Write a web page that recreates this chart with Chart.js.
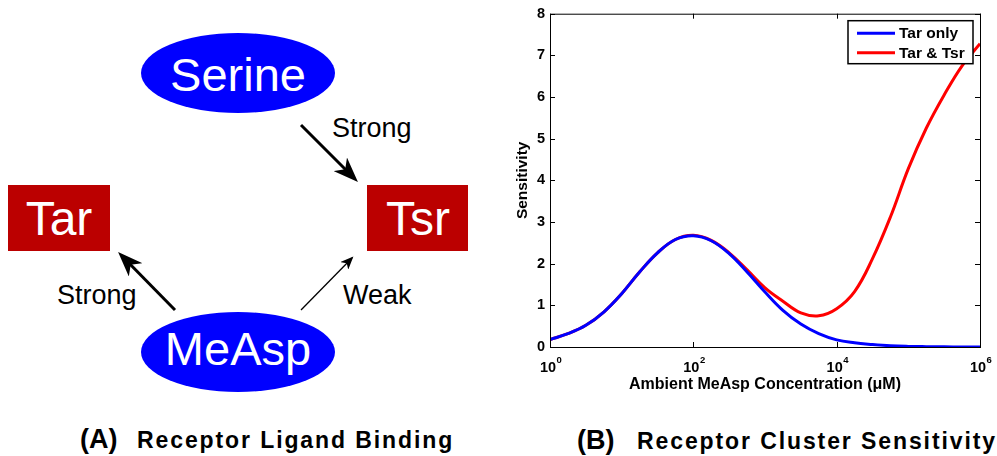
<!DOCTYPE html>
<html>
<head>
<meta charset="utf-8">
<script src="https://cdn.jsdelivr.net/npm/chart.js@4"></script>
<style>
  body { margin: 0; background: #fff; }
  #wrap { position: relative; width: 997px; height: 456px; overflow: hidden; }
  #diagram { position: absolute; left: 0; top: 0; }
  #sens { position: absolute; left: 500px; top: 0; }
</style>
</head>
<body>
<div id="wrap">
<svg id="diagram" width="997" height="456" font-family="Liberation Sans, Arial, Helvetica, sans-serif">
  <defs>
    <marker id="headBig" markerUnits="userSpaceOnUse" markerWidth="26" markerHeight="19" refX="18" refY="9.5" orient="auto">
      <path d="M0,0 L25,9.5 L0,19 L7,9.5 z" fill="#000"/>
    </marker>
    <marker id="headSmall" markerUnits="userSpaceOnUse" markerWidth="14" markerHeight="11" refX="11" refY="5.5" orient="auto">
      <path d="M0,0 L13,5.5 L0,11 L3.5,5.5 z" fill="#000"/>
    </marker>
  </defs>
  <ellipse cx="238" cy="73" rx="97" ry="40" fill="#0000ff"/>
  <text x="238" y="91" fill="#fff" font-size="47" text-anchor="middle">Serine</text>
  <ellipse cx="238" cy="352" rx="97" ry="40" fill="#0000ff"/>
  <text x="238" y="365" fill="#fff" font-size="47" text-anchor="middle">MeAsp</text>
  <rect x="8" y="185" width="102" height="66" fill="#bb0000"/>
  <text x="59" y="235" fill="#fff" font-size="48" text-anchor="middle">Tar</text>
  <rect x="367" y="185" width="101" height="66" fill="#bb0000"/>
  <text x="418" y="235" fill="#fff" font-size="48" text-anchor="middle">Tsr</text>

  <line x1="301" y1="125" x2="353" y2="177" stroke="#000" stroke-width="3" marker-end="url(#headBig)"/>
  <line x1="175" y1="310" x2="123" y2="257" stroke="#000" stroke-width="3" marker-end="url(#headBig)"/>
  <line x1="301" y1="310" x2="352" y2="258" stroke="#000" stroke-width="1.3" marker-end="url(#headSmall)"/>

  <text x="332" y="137" font-size="27">Strong</text>
  <text x="57" y="304" font-size="27">Strong</text>
  <text x="343" y="304" font-size="27">Weak</text>

  <text y="448" font-weight="bold"><tspan x="80" font-size="27">(A)</tspan><tspan x="137" font-size="23" letter-spacing="1.9">Receptor Ligand Binding</tspan></text>
  <text y="449" font-weight="bold"><tspan x="577" font-size="27">(B)</tspan><tspan x="637" font-size="23" letter-spacing="1.9">Receptor Cluster Sensitivity</tspan></text>
</svg>
<canvas id="sens" width="497" height="400"></canvas>
</div>
<script>
// MeAsp concentration (uM), quarter-decade steps
const concentration = [1, 1.778, 3.162, 5.623, 10, 17.78, 31.62, 56.23, 100, 177.8, 316.2, 562.3,
  1000, 1778, 3162, 5623, 10000, 17780, 31620, 56230, 100000, 177800, 316200, 562300, 1000000];

const tarOnly = [0.18, 0.32, 0.52, 0.84, 1.28, 1.80, 2.26, 2.58, 2.67, 2.55, 2.24, 1.80,
  1.32, 0.88, 0.55, 0.32, 0.17, 0.10, 0.06, 0.03, 0.015, 0.008, 0.004, 0.002, 0.001];

const tarTsr = [0.18, 0.32, 0.52, 0.84, 1.28, 1.80, 2.26, 2.58, 2.68, 2.56, 2.26, 1.85,
  1.42, 1.10, 0.82, 0.75, 0.92, 1.33, 2.12, 3.12, 4.28, 5.25, 6.05, 6.75, 7.28];

const seriesNames = ['Tar only', 'Tar & Tsr'];
const seriesColors = ['#0000ff', '#ff0000'];

const xTickValues = [1, 100, 10000, 1000000];
const xTickExponents = ['0', '2', '4', '6'];

const boldFont = 'Liberation Sans, Arial, Helvetica, sans-serif';

const points = (ys) => concentration.map((c, i) => ({x: c, y: ys[i]}));

// matlab style box, inward ticks, 10^n labels and boxed legend
const matlabFrame = {
    id: 'matlabFrame',
    afterDraw(chart) {
        const {ctx, chartArea: a, scales} = chart;
        ctx.save();
        ctx.strokeStyle = '#000';
        ctx.lineWidth = 1;
        ctx.strokeRect(a.left + 0.5, a.top + 0.5, a.right - a.left, a.bottom - a.top);
        ctx.beginPath();
        scales.x.ticks.forEach(t => {
            const px = Math.round(scales.x.getPixelForValue(t.value)) + 0.5;
            ctx.moveTo(px, a.bottom); ctx.lineTo(px, a.bottom - 5);
            ctx.moveTo(px, a.top); ctx.lineTo(px, a.top + 5);
        });
        scales.y.ticks.forEach(t => {
            const py = Math.round(scales.y.getPixelForValue(t.value)) + 0.5;
            ctx.moveTo(a.left, py); ctx.lineTo(a.left + 5, py);
            ctx.moveTo(a.right, py); ctx.lineTo(a.right - 5, py);
        });
        ctx.stroke();

        // x tick labels as 10 with raised exponent
        ctx.fillStyle = '#000';
        ctx.textBaseline = 'alphabetic';
        scales.x.ticks.forEach((t, i) => {
            const px = scales.x.getPixelForValue(t.value) - 2;
            ctx.font = 'bold 14.5px ' + boldFont;
            ctx.textAlign = 'center';
            const w = ctx.measureText('10').width;
            ctx.fillText('10', px, a.bottom + 25);
            ctx.font = 'bold 9.5px ' + boldFont;
            ctx.textAlign = 'left';
            ctx.fillText(xTickExponents[i], px + w / 2 + 0.5, a.bottom + 16);
        });

        // legend
        const bx = a.right - 132, by = a.top + 7, bw = 125, bh = 43;
        ctx.fillStyle = '#fff';
        ctx.fillRect(bx, by, bw, bh);
        ctx.lineWidth = 1.5;
        ctx.strokeRect(bx, by, bw, bh);
        ctx.font = 'bold 15.5px ' + boldFont;
        ctx.textAlign = 'left';
        ctx.textBaseline = 'middle';
        chart.data.datasets.forEach((ds, i) => {
            const ly = by + 12.5 + i * 19.5;
            ctx.strokeStyle = ds.borderColor;
            ctx.lineWidth = 3;
            ctx.beginPath();
            ctx.moveTo(bx + 9, ly); ctx.lineTo(bx + 47, ly);
            ctx.stroke();
            ctx.fillStyle = '#000';
            ctx.fillText(ds.label, bx + 51, ly + 1);
        });
        ctx.restore();
    }
};

const config = {
    type: 'line',
    data: {
        datasets: [
            {label: seriesNames[0], data: points(tarOnly), borderColor: seriesColors[0]},
            {label: seriesNames[1], data: points(tarTsr), borderColor: seriesColors[1]},
        ]
    },
    options: {
        responsive: false,
        animation: false,
        layout: {padding: {top: 13, right: 17, bottom: 0, left: 0}},
        elements: {
            point: {radius: 0},
            line: {borderWidth: 3, tension: 0.4, fill: false}
        },
        plugins: {legend: {display: false}, tooltip: {enabled: false}},
        scales: {
            x: {
                type: 'logarithmic',
                min: 1,
                max: 1000000,
                grid: {display: false, drawTicks: false},
                border: {display: false},
                afterBuildTicks(scale) {
                    scale.ticks = xTickValues.map(v => ({value: v}));
                },
                afterFit(scale) { scale.height = 53; },
                ticks: {display: false, autoSkip: false},
                title: {
                    display: true,
                    text: 'Ambient MeAsp Concentration (\u03bcM)',
                    color: '#000',
                    font: {family: boldFont, size: 16, weight: 'bold'},
                    padding: {top: 0, bottom: 6}
                }
            },
            y: {
                min: 0,
                max: 8,
                grid: {display: false, drawTicks: false},
                border: {display: false},
                afterFit(scale) { scale.width = 50; },
                ticks: {
                    stepSize: 1,
                    padding: 5,
                    color: '#000',
                    font: {family: boldFont, size: 14.5, weight: 'bold'}
                },
                title: {
                    display: true,
                    text: 'Sensitivity',
                    color: '#000',
                    font: {family: boldFont, size: 15.5, weight: 'bold'},
                    padding: {top: 13, bottom: 0}
                }
            }
        }
    },
    plugins: [matlabFrame]
};

new Chart(document.getElementById('sens'), config);
</script>
</body>
</html>
